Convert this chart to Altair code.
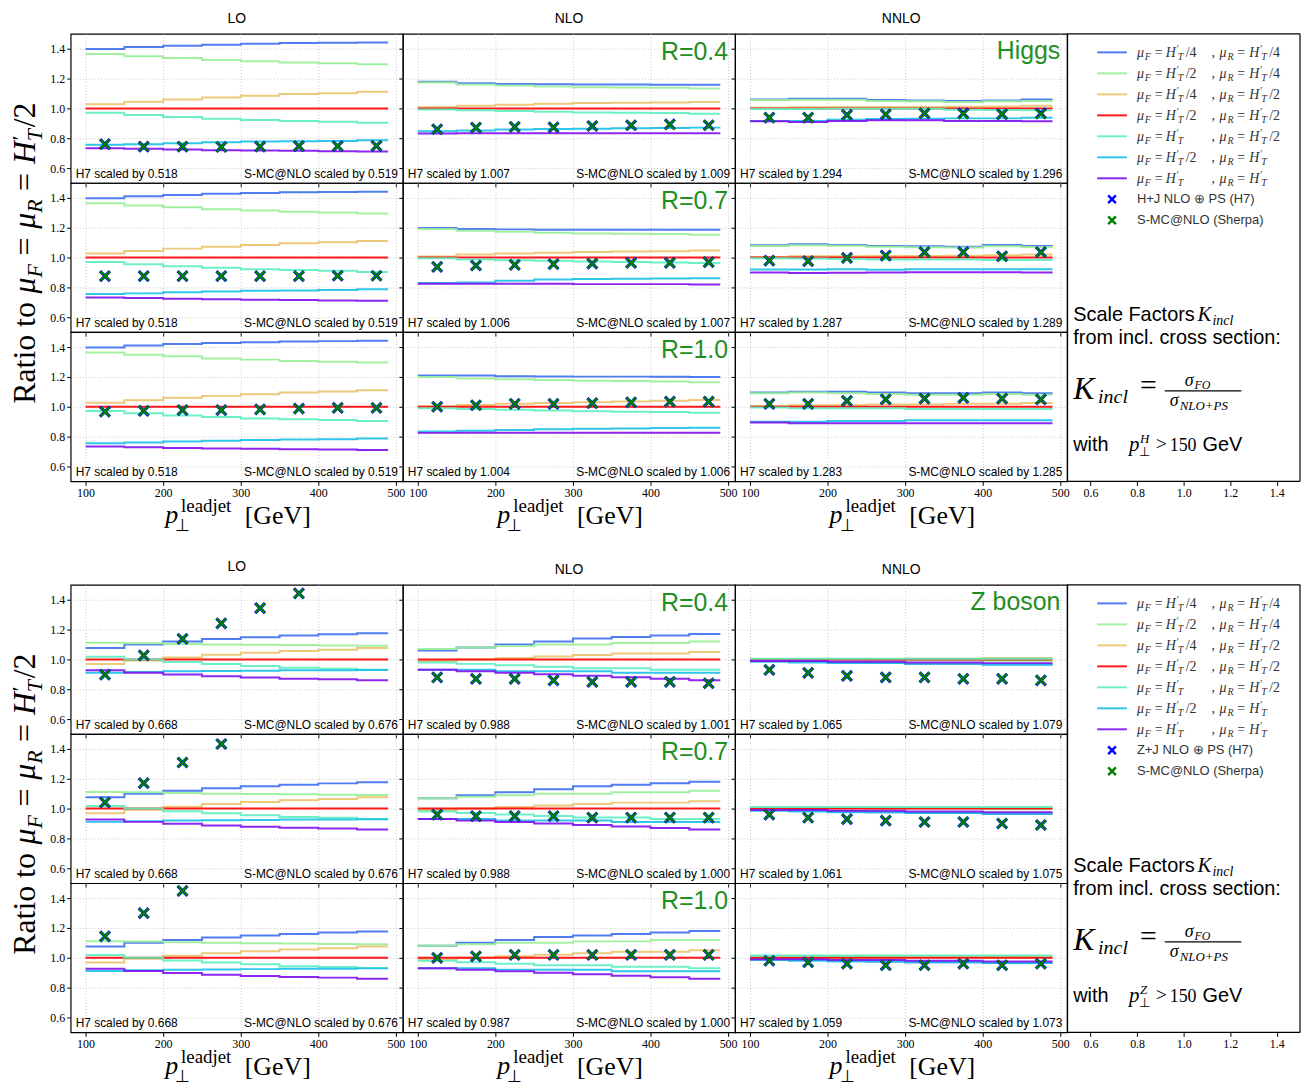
import altair as alt
import pandas as pd

# ---------------- data ----------------
X_EDGES = [100, 150, 200, 250, 300, 350, 400, 450, 490]
X_CENTERS = [125, 175, 225, 275, 325, 375, 425, 475]
X_TICKS = [100, 200, 300, 400, 500]
Y_TICKS = [0.6, 0.8, 1.0, 1.2, 1.4]
LEGEND_AXIS_TICKS = [0.6, 0.8, 1.0, 1.2, 1.4]
COLUMNS = ["LO", "NLO", "NNLO"]
R_LABELS = ["R=0.4", "R=0.7", "R=1.0"]

SCALE_KEYS = ["F4R4", "F2R4", "F4R2", "F2R2", "F1R2", "F2R1", "F1R1"]
SCALE_COLORS = ["#3d6ff0", "#99ee99", "#ebc36e", "#ff0000", "#5cf0c0", "#18c0e8", "#8010f0"]
F_FRAC = ["/4", "/2", "/4", "/2", "", "/2", ""]
R_FRAC = ["/4", "/4", "/2", "/2", "/2", "", ""]

# ---- Higgs ----
H_LO = [
    [1.398, 1.411, 1.420, 1.427, 1.433, 1.438, 1.440, 1.442],
    [1.364, 1.349, 1.338, 1.324, 1.316, 1.307, 1.302, 1.296],
    [1.027, 1.044, 1.060, 1.073, 1.084, 1.096, 1.102, 1.111],
    [1.000, 1.000, 1.000, 1.000, 1.000, 1.000, 1.000, 1.000],
    [0.971, 0.956, 0.942, 0.931, 0.922, 0.916, 0.911, 0.904],
    [0.756, 0.760, 0.767, 0.773, 0.778, 0.780, 0.782, 0.787],
    [0.733, 0.729, 0.724, 0.720, 0.718, 0.716, 0.713, 0.711],
]
H_NLO_R04 = [
    [1.178, 1.169, 1.164, 1.162, 1.160, 1.160, 1.158, 1.158],
    [1.173, 1.160, 1.153, 1.147, 1.142, 1.140, 1.138, 1.133],
    [1.007, 1.018, 1.024, 1.031, 1.036, 1.038, 1.040, 1.042],
    [1.000, 1.000, 1.000, 1.000, 1.000, 1.000, 1.000, 1.000],
    [0.993, 0.987, 0.982, 0.978, 0.973, 0.971, 0.969, 0.964],
    [0.847, 0.851, 0.858, 0.862, 0.864, 0.867, 0.869, 0.871],
    [0.831, 0.833, 0.833, 0.833, 0.833, 0.833, 0.833, 0.833],
]
H_NLO_R07 = [
    [1.198, 1.191, 1.189, 1.187, 1.187, 1.187, 1.187, 1.187],
    [1.191, 1.180, 1.173, 1.167, 1.162, 1.160, 1.158, 1.153],
    [1.007, 1.020, 1.027, 1.033, 1.038, 1.040, 1.042, 1.047],
    [1.000, 1.000, 1.000, 1.000, 1.000, 1.000, 1.000, 1.000],
    [0.996, 0.987, 0.982, 0.978, 0.973, 0.971, 0.967, 0.964],
    [0.829, 0.833, 0.844, 0.853, 0.856, 0.858, 0.860, 0.862],
    [0.824, 0.824, 0.824, 0.824, 0.822, 0.822, 0.822, 0.820],
]
H_NLO_R10 = [
    [1.210, 1.210, 1.205, 1.203, 1.202, 1.202, 1.201, 1.200],
    [1.200, 1.190, 1.185, 1.180, 1.175, 1.172, 1.170, 1.165],
    [1.002, 1.012, 1.020, 1.026, 1.031, 1.036, 1.040, 1.045],
    [1.000, 1.000, 1.000, 1.000, 1.000, 1.000, 1.000, 1.000],
    [0.990, 0.985, 0.980, 0.975, 0.970, 0.967, 0.965, 0.960],
    [0.835, 0.840, 0.845, 0.850, 0.852, 0.855, 0.857, 0.860],
    [0.825, 0.826, 0.826, 0.826, 0.826, 0.826, 0.826, 0.826],
]
H_NNLO_R04 = [
    [1.060, 1.064, 1.064, 1.056, 1.053, 1.049, 1.053, 1.060],
    [1.056, 1.058, 1.058, 1.049, 1.047, 1.042, 1.047, 1.049],
    [1.004, 1.007, 1.009, 1.009, 1.009, 1.011, 1.013, 1.018],
    [1.000, 1.000, 1.000, 1.000, 1.000, 1.000, 1.000, 1.000],
    [0.996, 0.996, 0.998, 0.998, 0.998, 0.991, 0.989, 0.987],
    [0.916, 0.916, 0.924, 0.929, 0.931, 0.933, 0.933, 0.938],
    [0.913, 0.909, 0.916, 0.920, 0.920, 0.916, 0.916, 0.913],
]
H_NNLO_R07 = [
    [1.082, 1.089, 1.084, 1.078, 1.076, 1.073, 1.084, 1.078],
    [1.078, 1.082, 1.080, 1.073, 1.069, 1.067, 1.076, 1.071],
    [1.004, 1.009, 1.009, 1.011, 1.011, 1.013, 1.016, 1.020],
    [1.000, 1.000, 1.000, 1.000, 1.000, 1.000, 1.000, 1.000],
    [0.996, 0.993, 0.991, 0.987, 0.987, 0.987, 0.984, 0.984],
    [0.920, 0.920, 0.922, 0.918, 0.922, 0.922, 0.922, 0.922],
    [0.900, 0.896, 0.898, 0.900, 0.902, 0.902, 0.902, 0.900],
]
H_NNLO_R10 = [
    [1.095, 1.100, 1.100, 1.095, 1.090, 1.090, 1.095, 1.090],
    [1.090, 1.095, 1.090, 1.085, 1.080, 1.080, 1.085, 1.080],
    [1.005, 1.010, 1.010, 1.015, 1.015, 1.020, 1.020, 1.025],
    [1.000, 1.000, 1.000, 1.000, 1.000, 1.000, 1.000, 1.000],
    [0.995, 0.990, 0.990, 0.990, 0.985, 0.985, 0.985, 0.985],
    [0.900, 0.900, 0.905, 0.905, 0.910, 0.910, 0.910, 0.910],
    [0.895, 0.890, 0.890, 0.890, 0.890, 0.890, 0.890, 0.890],
]
HIGGS_LINES = {"LO": [H_LO, H_LO, H_LO],
               "NLO": [H_NLO_R04, H_NLO_R07, H_NLO_R10],
               "NNLO": [H_NNLO_R04, H_NNLO_R07, H_NNLO_R10]}
HIGGS_H7 = {
    "LO": [[0.760, 0.744, 0.744, 0.742, 0.744, 0.747, 0.747, 0.749],
           [0.876, 0.876, 0.876, 0.876, 0.876, 0.876, 0.878, 0.878],
           [0.967, 0.973, 0.978, 0.978, 0.982, 0.987, 0.993, 0.993]],
    "NLO": [[0.860, 0.871, 0.876, 0.873, 0.882, 0.887, 0.893, 0.887],
            [0.938, 0.947, 0.951, 0.956, 0.960, 0.964, 0.964, 0.969],
            [1.000, 1.010, 1.020, 1.020, 1.025, 1.030, 1.035, 1.035]],
    "NNLO": [[0.938, 0.938, 0.956, 0.960, 0.967, 0.966, 0.962, 0.966],
             [0.980, 0.976, 0.998, 1.013, 1.036, 1.036, 1.009, 1.036],
             [1.020, 1.020, 1.040, 1.050, 1.055, 1.060, 1.055, 1.050]],
}
HIGGS_SHERPA = {
    "LO": [[0.760, 0.744, 0.744, 0.742, 0.744, 0.747, 0.747, 0.749],
           [0.876, 0.876, 0.876, 0.876, 0.876, 0.876, 0.878, 0.878],
           [0.967, 0.973, 0.978, 0.978, 0.982, 0.987, 0.993, 0.993]],
    "NLO": [[0.860, 0.871, 0.876, 0.873, 0.882, 0.887, 0.891, 0.887],
            [0.938, 0.947, 0.951, 0.956, 0.960, 0.964, 0.964, 0.969],
            [1.000, 1.010, 1.020, 1.020, 1.025, 1.030, 1.033, 1.035]],
    "NNLO": [[0.938, 0.938, 0.956, 0.960, 0.967, 0.962, 0.960, 0.962],
             [0.980, 0.976, 0.996, 1.011, 1.034, 1.034, 1.007, 1.034],
             [1.020, 1.020, 1.040, 1.050, 1.055, 1.060, 1.055, 1.050]],
}
HIGGS_K_H7 = {"LO": ["0.518", "0.518", "0.518"], "NLO": ["1.007", "1.006", "1.004"],
              "NNLO": ["1.294", "1.287", "1.283"]}
HIGGS_K_SHERPA = {"LO": ["0.519", "0.519", "0.519"], "NLO": ["1.009", "1.007", "1.006"],
                  "NNLO": ["1.296", "1.289", "1.285"]}

# ---- Z boson ----
Z_LO = [
    [1.076, 1.100, 1.120, 1.136, 1.149, 1.160, 1.169, 1.176],
    [1.111, 1.109, 1.104, 1.100, 1.098, 1.096, 1.093, 1.091],
    [0.969, 0.993, 1.013, 1.031, 1.044, 1.056, 1.064, 1.076],
    [1.000, 1.000, 1.000, 1.000, 1.000, 1.000, 1.000, 1.000],
    [1.018, 1.000, 0.982, 0.969, 0.956, 0.944, 0.938, 0.931],
    [0.911, 0.916, 0.920, 0.922, 0.924, 0.927, 0.927, 0.929],
    [0.927, 0.911, 0.898, 0.887, 0.878, 0.871, 0.867, 0.860],
]
Z_NLO_R04 = [
    [1.060, 1.080, 1.100, 1.120, 1.140, 1.150, 1.160, 1.170],
    [1.070, 1.080, 1.090, 1.100, 1.100, 1.110, 1.110, 1.120],
    [0.990, 1.000, 1.010, 1.020, 1.030, 1.040, 1.040, 1.050],
    [1.000, 1.000, 1.000, 1.000, 1.000, 1.000, 1.000, 1.000],
    [0.980, 0.970, 0.960, 0.950, 0.940, 0.940, 0.930, 0.930],
    [0.930, 0.930, 0.920, 0.920, 0.920, 0.910, 0.910, 0.910],
    [0.930, 0.920, 0.910, 0.900, 0.890, 0.880, 0.870, 0.860],
]
Z_NLO_R07 = [
    [1.070, 1.090, 1.110, 1.130, 1.150, 1.160, 1.170, 1.180],
    [1.070, 1.080, 1.090, 1.100, 1.100, 1.110, 1.110, 1.120],
    [0.990, 1.000, 1.010, 1.020, 1.030, 1.040, 1.040, 1.050],
    [1.000, 1.000, 1.000, 1.000, 1.000, 1.000, 1.000, 1.000],
    [0.980, 0.970, 0.960, 0.950, 0.940, 0.940, 0.930, 0.930],
    [0.930, 0.930, 0.920, 0.920, 0.920, 0.910, 0.910, 0.910],
    [0.930, 0.920, 0.910, 0.900, 0.890, 0.880, 0.870, 0.860],
]
Z_NLO_R10 = [
    [1.080, 1.100, 1.120, 1.140, 1.150, 1.160, 1.170, 1.180],
    [1.080, 1.090, 1.100, 1.100, 1.110, 1.110, 1.120, 1.120],
    [0.990, 1.000, 1.010, 1.020, 1.030, 1.040, 1.040, 1.050],
    [1.000, 1.000, 1.000, 1.000, 1.000, 1.000, 1.000, 1.000],
    [0.980, 0.970, 0.960, 0.950, 0.950, 0.940, 0.940, 0.930],
    [0.930, 0.930, 0.920, 0.920, 0.920, 0.910, 0.910, 0.910],
    [0.930, 0.920, 0.910, 0.900, 0.890, 0.880, 0.870, 0.860],
]
Z_NNLO_R04 = [
    [0.990, 0.985, 0.980, 0.975, 0.970, 0.970, 0.965, 0.965],
    [1.000, 1.000, 1.000, 0.995, 0.995, 0.995, 0.990, 0.990],
    [0.995, 0.995, 1.000, 1.000, 1.005, 1.005, 1.010, 1.010],
    [1.000, 1.000, 1.000, 1.000, 1.000, 1.000, 1.000, 1.000],
    [1.005, 1.005, 1.005, 1.005, 1.005, 1.005, 1.005, 1.005],
    [0.985, 0.980, 0.975, 0.975, 0.970, 0.970, 0.965, 0.965],
    [0.990, 0.990, 0.985, 0.985, 0.980, 0.980, 0.975, 0.975],
]
Z_NNLO_R07 = [
    [0.990, 0.985, 0.980, 0.975, 0.970, 0.970, 0.965, 0.965],
    [1.005, 1.005, 1.005, 1.000, 1.000, 1.000, 0.995, 0.995],
    [0.995, 0.995, 1.000, 1.000, 1.005, 1.005, 1.010, 1.010],
    [1.000, 1.000, 1.000, 1.000, 1.000, 1.000, 1.000, 1.000],
    [1.010, 1.010, 1.010, 1.010, 1.010, 1.010, 1.010, 1.010],
    [0.985, 0.980, 0.975, 0.975, 0.970, 0.970, 0.965, 0.965],
    [0.990, 0.990, 0.985, 0.985, 0.980, 0.980, 0.975, 0.975],
]
Z_NNLO_R10 = [
    [0.990, 0.985, 0.980, 0.975, 0.970, 0.970, 0.965, 0.965],
    [1.010, 1.010, 1.010, 1.005, 1.005, 1.005, 1.000, 1.000],
    [0.995, 0.995, 1.000, 1.000, 1.005, 1.005, 1.010, 1.010],
    [1.000, 1.000, 1.000, 1.000, 1.000, 1.000, 1.000, 1.000],
    [1.015, 1.015, 1.015, 1.015, 1.015, 1.015, 1.015, 1.015],
    [0.985, 0.980, 0.975, 0.975, 0.970, 0.970, 0.965, 0.965],
    [0.990, 0.990, 0.985, 0.985, 0.980, 0.980, 0.975, 0.975],
]
Z_LINES = {"LO": [Z_LO, Z_LO, Z_LO],
           "NLO": [Z_NLO_R04, Z_NLO_R07, Z_NLO_R10],
           "NNLO": [Z_NNLO_R04, Z_NNLO_R07, Z_NNLO_R10]}
Z_H7 = {
    "LO": [[0.898, 1.027, 1.138, 1.242, 1.344, 1.442, None, None],
           [1.042, 1.171, 1.309, 1.433, None, None, None, None],
           [1.144, 1.300, 1.449, None, None, None, None, None]],
    "NLO": [[0.880, 0.870, 0.870, 0.860, 0.850, 0.850, 0.850, 0.840],
            [0.960, 0.950, 0.950, 0.950, 0.940, 0.940, 0.940, 0.940],
            [1.000, 1.010, 1.020, 1.020, 1.020, 1.020, 1.020, 1.020]],
    "NNLO": [[0.930, 0.910, 0.890, 0.880, 0.880, 0.870, 0.870, 0.860],
             [0.960, 0.940, 0.930, 0.920, 0.910, 0.910, 0.900, 0.890],
             [0.980, 0.970, 0.960, 0.950, 0.950, 0.960, 0.950, 0.960]],
}
Z_SHERPA = {
    "LO": [[0.898, 1.027, 1.138, 1.242, 1.344, 1.442, None, None],
           [1.042, 1.171, 1.309, 1.433, None, None, None, None],
           [1.144, 1.300, 1.449, None, None, None, None, None]],
    "NLO": [[0.880, 0.870, 0.870, 0.860, 0.850, 0.850, 0.850, 0.840],
            [0.960, 0.950, 0.950, 0.950, 0.940, 0.940, 0.940, 0.940],
            [1.000, 1.010, 1.020, 1.020, 1.020, 1.020, 1.020, 1.020]],
    "NNLO": [[0.930, 0.910, 0.890, 0.880, 0.880, 0.870, 0.870, 0.860],
             [0.960, 0.940, 0.930, 0.920, 0.910, 0.910, 0.900, 0.890],
             [0.980, 0.970, 0.960, 0.950, 0.950, 0.960, 0.950, 0.960]],
}
Z_K_H7 = {"LO": ["0.668", "0.668", "0.668"], "NLO": ["0.988", "0.988", "0.987"],
          "NNLO": ["1.065", "1.061", "1.059"]}
Z_K_SHERPA = {"LO": ["0.676", "0.676", "0.676"], "NLO": ["1.001", "1.000", "1.000"],
              "NNLO": ["1.079", "1.075", "1.073"]}

# ---------------- style ----------------
W, H = 334, 150
LW = 234
GAP = 104
XDOM = [80.8, 509.0]
YDOM = [0.5, 1.5]
SANS = "Liberation Sans"
SERIF = "Liberation Serif"
GREEN_TXT = "#1f8f1f"
X_PATH = "M-1,-1L1,1M-1,1L1,-1"
NO_FRAME = alt.ViewBackground(strokeOpacity=0)


def lines_df(lines):
    rows = []
    for key, vals in zip(SCALE_KEYS, lines):
        ext = list(vals) + [vals[-1]]
        for x, v in zip(X_EDGES, ext):
            rows.append({"key": key, "x": x, "v": v})
    return pd.DataFrame(rows)


def txt(text, x, y, size, font=SANS, style="normal", color="black", align="left",
        baseline="alphabetic", angle=0, dx=0, dy=0):
    return alt.Chart(pd.DataFrame({"t": [text]})).mark_text(
        font=font, fontSize=size, fontStyle=style, color=color, align=align,
        baseline=baseline, angle=angle, dx=dx, dy=dy
    ).encode(x=alt.value(x), y=alt.value(y), text="t:N")


def frame_rule(x, x2, y, y2):
    enc = {"x": alt.value(x), "y": alt.value(y)}
    if x2 is not None:
        enc["x2"] = alt.value(x2)
    if y2 is not None:
        enc["y2"] = alt.value(y2)
    return alt.Chart(pd.DataFrame({"a": [0]})).mark_rule(
        color="black", strokeWidth=1.2).encode(**enc)


def y_title_layers():
    ax, ay = -36, 222
    segs = [("Ratio to", 0, 0, 32, "normal"),
            ("μ", 111, 0, 32, "italic"),
            ("F", 127, 7, 22, "italic"),
            ("=", 149, 0, 32, "normal"),
            ("μ", 176, 0, 32, "italic"),
            ("R", 192, 7, 22, "italic"),
            ("=", 214, 0, 32, "normal"),
            ("H", 241, 0, 32, "italic"),
            ("′", 265, -8, 22, "normal"),
            ("T", 264, 7, 22, "italic"),
            ("/2", 278, 0, 32, "normal")]
    return [txt(t, ax, ay, s, font=SERIF, style=st, angle=270, dx=dx, dy=dy)
            for t, dx, dy, s, st in segs]


def x_title_layers():
    return [txt("p", 95, H + 42, 26, font=SERIF, style="italic"),
            txt("⊥", 105, H + 50, 17, font=SERIF),
            txt("leadjet", 111, H + 31, 19, font=SERIF),
            txt("[GeV]", 175, H + 43, 26, font=SERIF)]


def panel(lines, h7, sh, kh7, ksh, row, col, r_label=None, proc_label=None, title=None,
          ytitle=False):
    xs = alt.Scale(domain=XDOM, nice=False, zero=False)
    ys = alt.Scale(domain=YDOM, nice=False, zero=False)
    xaxis = alt.Axis(values=X_TICKS, format="d", labels=(row == 2), title=None, grid=True,
                     labelOverlap=False, labelFlush=False)
    yaxis = alt.Axis(values=Y_TICKS, format=".1f", labels=(col == 0), title=None, grid=True,
                     labelOverlap=False, labelFlush=False, tickCount=5)
    ln = alt.Chart(lines_df(lines)).mark_line(
        interpolate="step-after", strokeWidth=2, opacity=0.9
    ).encode(
        x=alt.X("x:Q", scale=xs, axis=xaxis),
        y=alt.Y("v:Q", scale=ys, axis=yaxis),
        color=alt.Color("key:N", scale=alt.Scale(domain=SCALE_KEYS, range=SCALE_COLORS),
                        legend=None),
        order=alt.Order("x:Q"),
    )
    md = pd.DataFrame({"x": X_CENTERS, "h7": h7, "sh": sh})
    m1 = alt.Chart(md).mark_point(shape=X_PATH, filled=False, size=100, strokeWidth=3.2,
                                  color="#0000ff", opacity=1).encode(
        x=alt.X("x:Q", axis=xaxis), y=alt.Y("h7:Q", axis=yaxis))
    m2 = alt.Chart(md).mark_point(shape=X_PATH, filled=False, size=90, strokeWidth=2.3,
                                  color="#008000", opacity=1).encode(
        x=alt.X("x:Q", axis=xaxis), y=alt.Y("sh:Q", axis=yaxis))
    layers = [ln, m1, m2,
              txt(f"H7 scaled by {kh7}", 5, H - 5, 12),
              txt(f"S-MC@NLO scaled by {ksh}", W - 5, H - 5, 12, align="right")]
    if r_label:
        layers.append(txt(r_label, W - 7, 26, 25, color=GREEN_TXT, align="right"))
    if proc_label:
        layers.append(txt(proc_label, W - 7, 25, 25, color=GREEN_TXT, align="right"))
    if row == 2:
        layers += x_title_layers()
    if ytitle:
        layers += y_title_layers()
    ch = alt.layer(*layers).properties(width=W, height=H)
    if title:
        ch = ch.properties(title=alt.TitleParams(title, font=SANS, fontSize=14,
                                                 fontWeight="normal", offset=8,
                                                 color="black"))
    return ch


def legend_top(marker_label, sup):
    keys = SCALE_KEYS + ["H7", "SH"]
    yscale = alt.Scale(type="point", domain=keys, range=[18.7, 187.5], padding=0)
    ydef = alt.Y("key:N", scale=yscale, axis=None)
    sw_df = pd.DataFrame({"key": SCALE_KEYS, "f1": F_FRAC, "f2": R_FRAC})
    sw = alt.Chart(sw_df).mark_rule(strokeWidth=2, opacity=0.9).encode(
        x=alt.value(30), x2=alt.value(60), y=ydef,
        color=alt.Color("key:N", scale=alt.Scale(domain=SCALE_KEYS, range=SCALE_COLORS),
                        legend=None))
    layers = [sw]
    mcol = "#333333"
    segs = [("μ", 0, 5, 14, "italic"), ("F", 8, 8, 10, "italic"),
            ("=", 18, 5, 14, "normal"), ("H", 29, 5, 14, "italic"),
            ("′", 40, 0, 10, "normal"), ("T", 41, 8, 10, "italic"),
            ("@f1", 49, 5, 14, "normal"), (",", 75, 5, 14, "normal"),
            ("μ", 83, 5, 14, "italic"), ("R", 91, 8, 10, "italic"),
            ("=", 101, 5, 14, "normal"), ("H", 113, 5, 14, "italic"),
            ("′", 124, 0, 10, "normal"), ("T", 125, 8, 10, "italic"),
            ("@f2", 133, 5, 14, "normal")]
    for t, dx, dy, s, st in segs:
        tenc = alt.Text(t[1:] + ":N") if t.startswith("@") else alt.value(t)
        layers.append(alt.Chart(sw_df).mark_text(
            font=SERIF, fontSize=s, fontStyle=st, color=mcol, align="left",
            baseline="alphabetic", dx=dx, dy=dy).encode(x=alt.value(70), y=ydef, text=tenc))
    mk_df = pd.DataFrame({"key": ["H7", "SH"],
                          "lab": [marker_label, "S-MC@NLO (Sherpa)"]})
    layers.append(alt.Chart(mk_df.iloc[[0]]).mark_point(
        shape=X_PATH, filled=False, size=60, strokeWidth=2.5, color="#0000ff", opacity=1
    ).encode(x=alt.value(45), y=ydef))
    layers.append(alt.Chart(mk_df.iloc[[1]]).mark_point(
        shape=X_PATH, filled=False, size=60, strokeWidth=2.5, color="#008000", opacity=1
    ).encode(x=alt.value(45), y=ydef))
    layers.append(alt.Chart(mk_df).mark_text(
        font=SANS, fontSize=13, color=mcol, align="left", baseline="middle"
    ).encode(x=alt.value(70), y=ydef, text="lab:N"))
    layers += [
        txt("Scale Factors", 6, 289, 20),
        txt("K", 131, 289, 21, font=SERIF, style="italic"),
        txt("incl", 146, 293, 14, font=SERIF, style="italic"),
        txt("from incl. cross section:", 6, 312, 20),
        txt("K", 6, 367, 32, font=SERIF, style="italic"),
        txt("incl", 31, 371, 20, font=SERIF, style="italic"),
        txt("=", 73, 363, 30, font=SERIF),
        txt("σ", 118, 354, 18, font=SERIF, style="italic"),
        txt("FO", 128, 357, 12, font=SERIF, style="italic"),
        txt("σ", 103, 374, 18, font=SERIF, style="italic"),
        txt("NLO+PS", 113, 378, 13, font=SERIF, style="italic"),
        txt("with", 6, 419, 20),
        txt("p", 62, 419, 21, font=SERIF, style="italic"),
        txt("⊥", 72, 424, 13, font=SERIF),
        txt(sup, 73, 411, 13, font=SERIF, style="italic"),
        txt(">", 89, 418, 20, font=SERIF),
        txt("150", 103, 419, 18, font=SERIF),
        txt("GeV", 136, 419, 20),
        frame_rule(98, 175, 359, None),
        frame_rule(0, None, 0, H), frame_rule(LW, None, 0, H), frame_rule(0, LW, 0, None),
    ]
    return alt.layer(*layers).properties(width=LW, height=H, view=NO_FRAME)


def legend_mid():
    return alt.layer(frame_rule(0, None, 0, H), frame_rule(LW, None, 0, H)).properties(
        width=LW, height=H, view=NO_FRAME)


def legend_bot():
    ax = alt.Chart(pd.DataFrame({"v": LEGEND_AXIS_TICKS})).mark_point(opacity=0).encode(
        x=alt.X("v:Q", scale=alt.Scale(domain=[0.5, 1.5], nice=False, zero=False),
                axis=alt.Axis(values=LEGEND_AXIS_TICKS, format=".1f", grid=False, title=None,
                              labelOverlap=False, labelFlush=False)),
        y=alt.value(H / 2))
    return alt.layer(ax, frame_rule(0, None, 0, H), frame_rule(LW, None, 0, H),
                     frame_rule(0, LW, H, None)).properties(width=LW, height=H, view=NO_FRAME)


def block(lines_d, h7_d, sh_d, kh7_d, ksh_d, proc_label, marker_label, sup):
    charts = []
    for r in range(3):
        for c, name in enumerate(COLUMNS):
            charts.append(panel(
                lines_d[name][r], h7_d[name][r], sh_d[name][r], kh7_d[name][r], ksh_d[name][r],
                r, c,
                r_label=R_LABELS[r] if name == "NLO" else None,
                proc_label=proc_label if (name == "NNLO" and r == 0) else None,
                title=name if r == 0 else None,
                ytitle=(c == 0 and r == 1)))
        if r == 0:
            charts.append(legend_top(marker_label, sup))
        elif r == 1:
            charts.append(legend_mid())
        else:
            charts.append(legend_bot())
    return charts


def spacer(width):
    return alt.Chart(pd.DataFrame({"a": [0]})).mark_point(opacity=0).encode(
        x=alt.value(0), y=alt.value(0)).properties(width=width, height=GAP, view=NO_FRAME)


top = block(HIGGS_LINES, HIGGS_H7, HIGGS_SHERPA, HIGGS_K_H7, HIGGS_K_SHERPA,
            "Higgs", "H+J NLO ⊕ PS (H7)", "H")
bottom = block(Z_LINES, Z_H7, Z_SHERPA, Z_K_H7, Z_K_SHERPA,
               "Z boson", "Z+J NLO ⊕ PS (H7)", "Z")
gap_row = [spacer(W), spacer(W), spacer(W), spacer(LW)]

chart = alt.concat(*(top + gap_row + bottom), columns=4, spacing=0, bounds="flush").properties(
    padding={"left": 0, "top": 0, "right": 1, "bottom": 0}
).configure_view(
    stroke="black", strokeWidth=1.2
).configure_axis(
    labelFont=SERIF, labelFontSize=12, labelColor="black", tickColor="black",
    tickSize=4, labelPadding=2, domain=False, gridColor="#bbbbbb", gridDash=[1, 2],
    gridWidth=0.8, labelFlush=False, labelOverlap=False
)

chart.save("out.html", embed_options={"renderer": "svg", "actions": False})
